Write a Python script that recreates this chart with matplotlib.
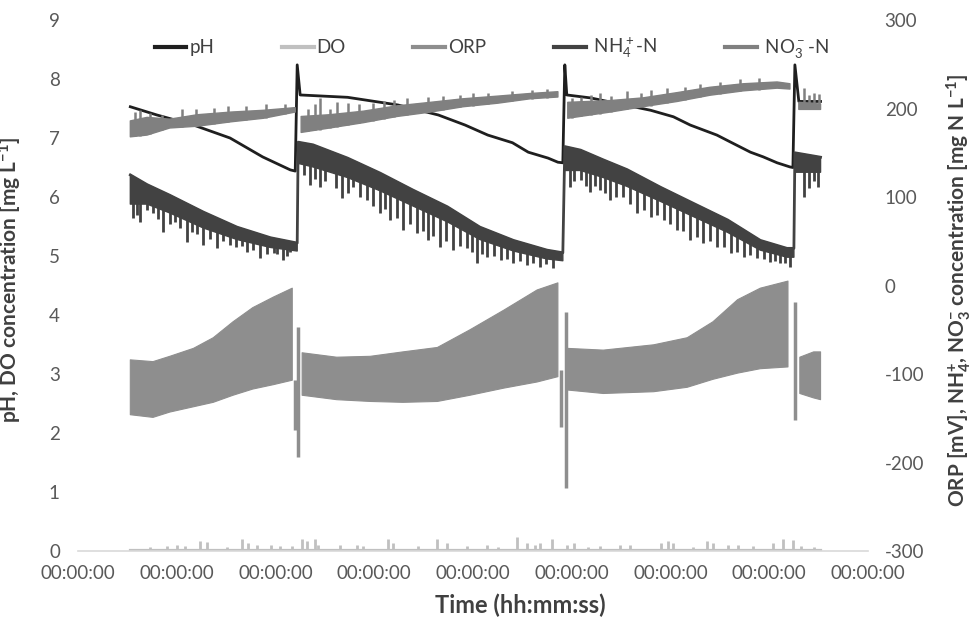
import numpy as np
import matplotlib
matplotlib.use("Agg")
import matplotlib.pyplot as plt
from matplotlib.lines import Line2D

plt.rcParams["font.family"] = ["Lato", "DejaVu Sans"]
plt.rcParams["mathtext.fontset"] = "custom"
plt.rcParams["mathtext.rm"] = "Lato"
plt.rcParams["mathtext.bf"] = "Lato:bold"
plt.rcParams["mathtext.default"] = "rm"
plt.rcParams["axes.unicode_minus"] = False

N = np.nan
# x is measured in tick intervals; all 9 ticks read "00:00:00"
tick_labels = ["00:00:00"] * 9

# pH (left axis)
ph_x = [0.53, 0.80, 1.17, 1.54, 1.87, 2.15, 2.20, 2.22,
        2.25, 2.73, 3.24, 3.65, 3.92, 4.15, 4.40, 4.56, 4.76, 4.86, 4.91, 4.93,
        4.95, 5.19, 5.80, 6.03, 6.20, 6.47, 6.61, 6.81, 6.94, 7.08, 7.21, 7.24, 7.26,
        7.30, 7.52]
ph_y = [7.53, 7.39, 7.22, 7.00, 6.68, 6.46, 6.44, 8.24,
        7.73, 7.69, 7.56, 7.39, 7.22, 7.05, 6.92, 6.76, 6.66, 6.59, 6.58, 8.24,
        7.73, 7.68, 7.47, 7.36, 7.22, 7.05, 6.93, 6.76, 6.68, 6.58, 6.51, 6.50, 8.24,
        7.62, 7.62]

# DO (left axis): baseline plus small bumps
do_base_x = [0.53, 7.52]
do_base_y = [0.02, 0.02]
do_x = [0.73, 0.90, 1.00, 1.08, 1.24, 1.31, 1.51, 1.66, 1.72, 1.81,
        1.95, 2.05, 2.17, 2.27, 2.32, 2.40, 2.43, 2.65, 2.83, 2.89,
        3.14, 3.19, 3.44, 3.64, 3.74, 3.94, 4.14, 4.25, 4.45, 4.55,
        4.63, 4.68, 4.80, 4.95, 5.02, 5.16, 5.29, 5.49, 5.59, 5.90,
        5.97, 6.03, 6.23, 6.37, 6.43, 6.58, 6.68, 6.84, 7.04, 7.14,
        7.24, 7.32, 7.45]
do_y = [0.06, 0.085, 0.10, 0.085, 0.17, 0.15, 0.06, 0.20, 0.14, 0.10,
        0.11, 0.085, 0.085, 0.20, 0.17, 0.20, 0.11, 0.10, 0.11, 0.085,
        0.21, 0.13, 0.085, 0.20, 0.14, 0.085, 0.11, 0.07, 0.23, 0.13,
        0.11, 0.14, 0.20, 0.11, 0.14, 0.07, 0.085, 0.10, 0.10, 0.14,
        0.17, 0.14, 0.07, 0.17, 0.14, 0.10, 0.11, 0.085, 0.14, 0.20,
        0.19, 0.085, 0.06]

# ORP (right axis, mV): envelope of the fast oscillation
orp_x = [0.53, 0.76, 0.93, 1.17, 1.37, 1.57, 1.77, 1.98, 2.17, N,
         2.27, 2.62, 2.96, 3.29, 3.64, 3.97, 4.31, 4.65, 4.86, N,
         4.95, 5.32, 5.83, 6.17, 6.43, 6.68, 6.91, 7.19, N,
         7.31, 7.45, 7.52]
orp_hi = [-84, -86, -80, -71, -59, -41, -25, -13, -3, N,
          -76, -81, -80, -75, -70, -50, -28, -5, 3, N,
          -71, -73, -67, -59, -41, -16, -3, 5, N,
          -81, -75, -75]
orp_lo = [-146, -149, -143, -137, -132, -124, -117, -112, -107, N,
          -124, -129, -131, -132, -131, -124, -116, -109, -103, N,
          -118, -122, -120, -115, -106, -99, -94, -92, N,
          -122, -127, -129]
orp_spike_x = [2.20, 2.23, 4.89, 4.94, 7.26]
orp_spike_hi = [-107, -47, -96, -30, -19]
orp_spike_lo = [-163, -194, -160, -229, -152]

# NH4+-N (right axis, mg N/L)
nh4_x = [0.53, 0.70, 0.93, 1.27, 1.61, 1.95, 2.22, N,
         2.23, 2.38, 2.73, 3.06, 3.39, 3.74, 4.07, 4.41, 4.75, 4.91, N,
         4.93, 5.09, 5.32, 5.56, 5.90, 6.23, 6.58, 6.91, 7.18, 7.25, N,
         7.26, 7.52]
nh4_top = [125, 114, 102, 83, 66, 54, 48, N,
           162, 159, 144, 127, 108, 89, 66, 51, 40, 37, N,
           157, 153, 142, 131, 111, 93, 74, 51, 42, 42, N,
           150, 145]
nh4_body = [92, 92, 82, 65, 52, 43, 39, N,
            138, 134, 122, 107, 90, 72, 52, 39, 30, 28, N,
            130, 130, 122, 112, 95, 78, 60, 40, 32, 32, N,
            128, 128]
nh4_spike_x = [0.56, 0.60, 0.63, 0.70, 0.76, 0.81, 0.86, 0.93, 0.98, 1.03, 1.10, 1.15, 1.21,
               1.27, 1.34, 1.41, 1.47, 1.54, 1.60, 1.66, 1.71, 1.77, 1.84, 1.91, 1.98, 2.02,
               2.08, 2.12, 2.15,
               2.29, 2.35, 2.40, 2.45, 2.50, 2.55, 2.61, 2.67, 2.73, 2.79, 2.86, 2.93, 2.99,
               3.06, 3.11, 3.16, 3.23, 3.29, 3.36, 3.43, 3.49, 3.54, 3.60, 3.67, 3.73, 3.80,
               3.87, 3.94, 3.99, 4.04, 4.09, 4.14, 4.21, 4.28, 4.34, 4.41, 4.48, 4.55, 4.61,
               4.68, 4.74, 4.81,
               4.98, 5.02, 5.09, 5.14, 5.19, 5.24, 5.29, 5.34, 5.39, 5.45, 5.52, 5.59, 5.66,
               5.73, 5.80, 5.86, 5.93, 6.00, 6.07, 6.13, 6.20, 6.27, 6.33, 6.40, 6.47, 6.54,
               6.61, 6.67, 6.74, 6.81, 6.88, 6.95, 7.01, 7.06, 7.11, 7.16, 7.21,
               7.35, 7.40, 7.45, 7.49]
nh4_spike_lo = [76, 80, 72, 85, 82, 75, 61, 70, 72, 65, 49, 60, 58,
                46, 52, 42, 50, 46, 44, 45, 38, 40, 31, 36, 37, 36,
                29, 33, 38,
                125, 114, 120, 111, 118, 130, 110, 99, 105, 111, 100, 97, 90,
                82, 86, 74, 76, 63, 70, 59, 62, 51, 56, 44, 50, 40,
                45, 42, 38, 25, 36, 32, 33, 29, 30, 25, 28, 23, 25,
                21, 24, 20,
                111, 118, 119, 112, 106, 113, 108, 104, 97, 100, 100, 92, 82,
                85, 77, 80, 74, 70, 63, 62, 51, 55, 48, 50, 44, 44,
                37, 38, 32, 34, 31, 30, 27, 28, 25, 26, 21,
                100, 110, 118, 111]

# NO3--N (right axis, mg N/L)
no3_x = [0.53, 0.70, 0.93, 1.21, 1.55, 1.88, 2.20, N,
         2.26, 2.55, 2.89, 3.23, 3.57, 3.90, 4.25, 4.58, 4.86, N,
         4.96, 5.39, 5.72, 6.07, 6.40, 6.74, 7.08, 7.21, N,
         7.30, 7.52]
no3_top = [186, 190, 188, 193, 196, 198, 201, N,
           191, 193, 197, 203, 207, 211, 214, 217, 219, N,
           207, 209, 212, 218, 224, 228, 230, 228, N,
           207, 205]
no3_bot = [168, 170, 178, 180, 185, 189, 196, N,
           173, 178, 184, 191, 196, 202, 206, 211, 213, N,
           189, 196, 202, 208, 215, 220, 223, 222, N,
           199, 199]
no3_spike_x = [0.58, 0.63, 0.73, 0.85, 1.05, 1.20, 1.38, 1.52, 1.70, 1.90, 2.10,
               2.33, 2.40, 2.45, 2.55, 2.62, 2.73, 2.85, 2.99, 3.10, 3.20, 3.33, 3.54, 3.70,
               3.87, 4.00, 4.15, 4.40, 4.60, 4.75,
               5.00, 5.09, 5.20, 5.29, 5.40, 5.56, 5.70, 5.80, 5.96, 6.15, 6.30, 6.50, 6.70, 6.90,
               7.35, 7.40, 7.45, 7.50]
no3_spike_hi = [196, 198, 195, 193, 200, 199, 201, 203, 203, 205, 205,
                200, 205, 212, 200, 207, 206, 205, 206, 208, 210, 212, 213, 214,
                215, 217, 218, 220, 221, 222,
                212, 213, 215, 218, 214, 220, 218, 221, 223, 224, 228, 230, 233, 234,
                223, 215, 218, 216]

c_ph, c_do, c_orp, c_nh4, c_no3 = "#1f1f1f", "#c0c0c0", "#8e8e8e", "#424242", "#808080"
c_text, c_title = "#595959", "#404040"

fig = plt.figure(figsize=(9.7, 6.18), dpi=100)
ax = fig.add_axes([0.0804, 0.1084, 0.8144, 0.8592])
ax2 = ax.twinx()

# left axis series
ax.plot(do_base_x, do_base_y, color=c_do, lw=1.6)
ax.vlines(do_x, 0, do_y, color=c_do, lw=2.0)
ax.plot(ph_x, ph_y, color=c_ph, lw=2.0)

# right axis series
ox = np.array(orp_x)
ax2.fill_between(ox, orp_lo, orp_hi, color=c_orp, lw=0.8, edgecolor=c_orp)
ax2.vlines(orp_spike_x, orp_spike_lo, orp_spike_hi, color=c_orp, lw=2.5)

nx = np.array(nh4_x)
ntop = np.array(nh4_top, dtype=float)
ax2.fill_between(nx, nh4_body, ntop, color=c_nh4, lw=1.0, edgecolor=c_nh4)
ok = np.isfinite(nx)
ax2.plot(nx[ok], ntop[ok], color=c_nh4, lw=2.0)
spike_top = np.interp(nh4_spike_x, nx[ok], ntop[ok])
ax2.vlines(nh4_spike_x, nh4_spike_lo, spike_top, color=c_nh4, lw=2.0)

qx = np.array(no3_x)
ax2.fill_between(qx, no3_bot, no3_top, color=c_no3, lw=1.0, edgecolor=c_no3)
qbot = np.array(no3_bot, dtype=float)
okq = np.isfinite(qx)
spike_base = np.interp(no3_spike_x, qx[okq], qbot[okq])
ax2.vlines(no3_spike_x, spike_base, no3_spike_hi, color=c_no3, lw=1.8)

# axes styling
ax.set_xlim(0, 8)
ax.set_ylim(0, 9)
ax2.set_ylim(-300, 300)
ax.set_xticks(range(9))
ax.set_xticklabels(tick_labels)
ax.set_yticks(range(10))
ax2.set_yticks(range(-300, 301, 100))
for a in (ax, ax2):
    for s in a.spines.values():
        s.set_visible(False)
ax.spines["bottom"].set_visible(True)
ax.spines["bottom"].set_color("#d9d9d9")
ax.spines["bottom"].set_linewidth(1.2)
ax.tick_params(axis="x", length=0, pad=10, labelsize=13.5, labelcolor=c_text)
ax.tick_params(axis="y", length=0, pad=13, labelsize=13.5, labelcolor=c_text)
ax2.tick_params(axis="y", length=0, pad=12, labelsize=13.5, labelcolor=c_text)

title_fs = 15
ax.set_ylabel(r"pH, DO concentration [mg L$^{\mathbf{-1}}$]", fontsize=title_fs,
              fontweight="bold", color=c_title)
ax.yaxis.set_label_coords(-0.068, 0.51)
ax2.set_ylabel(r"ORP [mV], NH$_\mathbf{4}^\mathbf{+}$, NO$_\mathbf{3}^\mathbf{-}$ concentration [mg N L$^{\mathbf{-1}}$]",
               fontsize=title_fs, fontweight="bold", color=c_title, rotation=90)
ax2.yaxis.set_label_coords(1.097, 0.49)
fig.text(520 / 970, 0.021, "Time (hh:mm:ss)", fontsize=17, fontweight="bold",
         color=c_title, ha="center", va="center")

handles = [Line2D([], [], color=c, lw=3) for c in (c_ph, c_do, c_orp, c_nh4, c_no3)]
labels = ["pH", "DO", "ORP", r" NH$_4^+$-N", r" NO$_3^-$-N"]
ax.legend(handles, labels, loc="center left", bbox_to_anchor=(0.097, 0.947), ncol=5,
          frameon=False, fontsize=13.5, handlelength=1.7, handletextpad=0.16,
          columnspacing=3.6, borderpad=0, borderaxespad=0, labelcolor=c_title)

fig.savefig("out.png", dpi=100)
